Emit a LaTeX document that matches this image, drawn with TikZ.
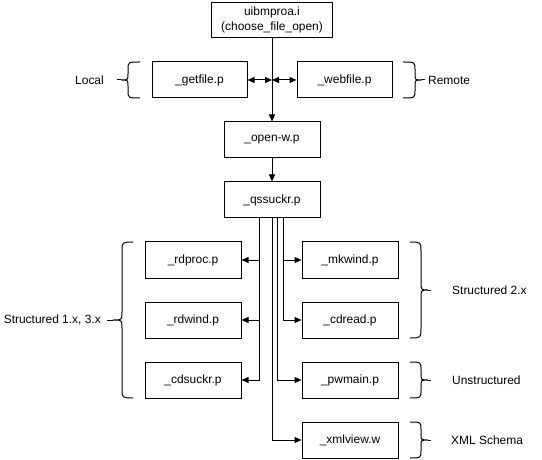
\documentclass[tikz,border=0pt]{standalone}
\usepackage{fontspec}
\setmainfont{Liberation Sans}
\usetikzlibrary{arrows.meta}
\begin{document}
\begin{tikzpicture}[x=1bp,y=-1bp,
  every node/.style={font=\fontsize{12}{15}\selectfont},
  box/.style={draw, line width=1bp, inner sep=0pt, minimum width=96bp, minimum height=36bp, align=center},
  wire/.style={line width=1bp},
  arr/.style={line width=1bp, -{Triangle[length=7bp,width=6bp]}},
  arrtwo/.style={line width=1bp, {Triangle[length=7bp,width=6bp]}-{Triangle[length=7bp,width=6bp]}},
  brc/.style={line width=1bp},
  lbl/.style={inner sep=0pt}]
\useasboundingbox (0,0) rectangle (542,460);
\fill[white] (0,0) rectangle (542,460);

% nodes
\node[box, minimum width=121bp, minimum height=35bp] (top) at (272,20) {uibmproa.i\\(choose\_file\_open)};
\node[box, minimum width=95bp] (getfile) at (199.5,80) {\_getfile.p};
\node[box, minimum width=95bp] (webfile) at (344.5,80) {\_webfile.p};
\node[box] (openw) at (272,140) {\_open-w.p};
\node[box] (qss) at (272,200) {\_qssuckr.p};
\node[box] (rdproc) at (193,260) {\_rdproc.p};
\node[box] (rdwind) at (193,320) {\_rdwind.p};
\node[box] (cdsuckr) at (193,380) {\_cdsuckr.p};
\node[box] (mkwind) at (350,260) {\_mkwind.p};
\node[box] (cdread) at (350,320) {\_cdread.p};
\node[box] (pwmain) at (350,380) {\_pwmain.p};
\node[box] (xmlview) at (350,440) {\_xmlview.w};

% connectors
\coordinate (J) at (top.south |- getfile.east);
\draw[arr] (top.south) -- (openw.north);
\draw[arrtwo] (J) -- (getfile.east);
\draw[arrtwo] (J) -- (webfile.west);
\draw[arr] (openw.south) -- (qss.north);

\draw[arr] ([xshift=-13bp]qss.south) |- (rdproc.east);
\draw[arr] ([xshift=-13bp]qss.south) |- (rdwind.east);
\draw[arr] ([xshift=-13bp]qss.south) |- (cdsuckr.east);
\draw[arr] ([xshift=11bp]qss.south) |- (mkwind.west);
\draw[arr] ([xshift=11bp]qss.south) |- (cdread.west);
\draw[arr] ([xshift=5bp]qss.south) |- (pwmain.west);
\draw[arr] (qss.south) |- (xmlview.west);

% braces (left-pointing)
\draw[brc] (140,62) .. controls (128,62) .. (128,70) -- (128,74) .. controls (128,80) .. (121,80) .. controls (128,80) .. (128,86) -- (128,90) .. controls (128,98) .. (140,98);
\draw[brc] (121,80) -- (117,80);
\draw[brc] (133,242) .. controls (122,242) .. (122,252) -- (122,312) .. controls (122,320) .. (113,320) .. controls (122,320) .. (122,328) -- (122,388) .. controls (122,398) .. (133,398);
\draw[brc] (113,320) -- (107,320);
% braces (right-pointing)
\draw[brc] (403,62) .. controls (415,62) .. (415,70) -- (415,74) .. controls (415,80) .. (422,80) .. controls (415,80) .. (415,86) -- (415,90) .. controls (415,98) .. (403,98);
\draw[brc] (422,80) -- (425,80);
\draw[brc] (410,242) .. controls (421,242) .. (421,252) -- (421,282) .. controls (421,290) .. (428,290) .. controls (421,290) .. (421,298) -- (421,328) .. controls (421,338) .. (410,338);
\draw[brc] (428,290) -- (431,290);
\draw[brc] (410,362) .. controls (421,362) .. (421,370) -- (421,374) .. controls (421,380) .. (428,380) .. controls (421,380) .. (421,386) -- (421,390) .. controls (421,398) .. (410,398);
\draw[brc] (428,380) -- (431,380);
\draw[brc] (410,422) .. controls (421,422) .. (421,430) -- (421,434) .. controls (421,440) .. (428,440) .. controls (421,440) .. (421,446) -- (421,450) .. controls (421,458) .. (410,458);
\draw[brc] (428,440) -- (431,440);

% labels
\node[lbl, anchor=east] (local) at (104,80) {Local};
\node[lbl, anchor=west] (remote) at (428,80) {Remote};
\node[lbl, anchor=east] (s13) at (101,320) {Structured 1.x, 3.x};
\node[lbl, anchor=west] (s2) at (452,290) {Structured 2.x};
\node[lbl, anchor=west] (uns) at (452,380) {Unstructured};
\node[lbl, anchor=west] (xml) at (451,440) {XML Schema};
\end{tikzpicture}
\end{document}
